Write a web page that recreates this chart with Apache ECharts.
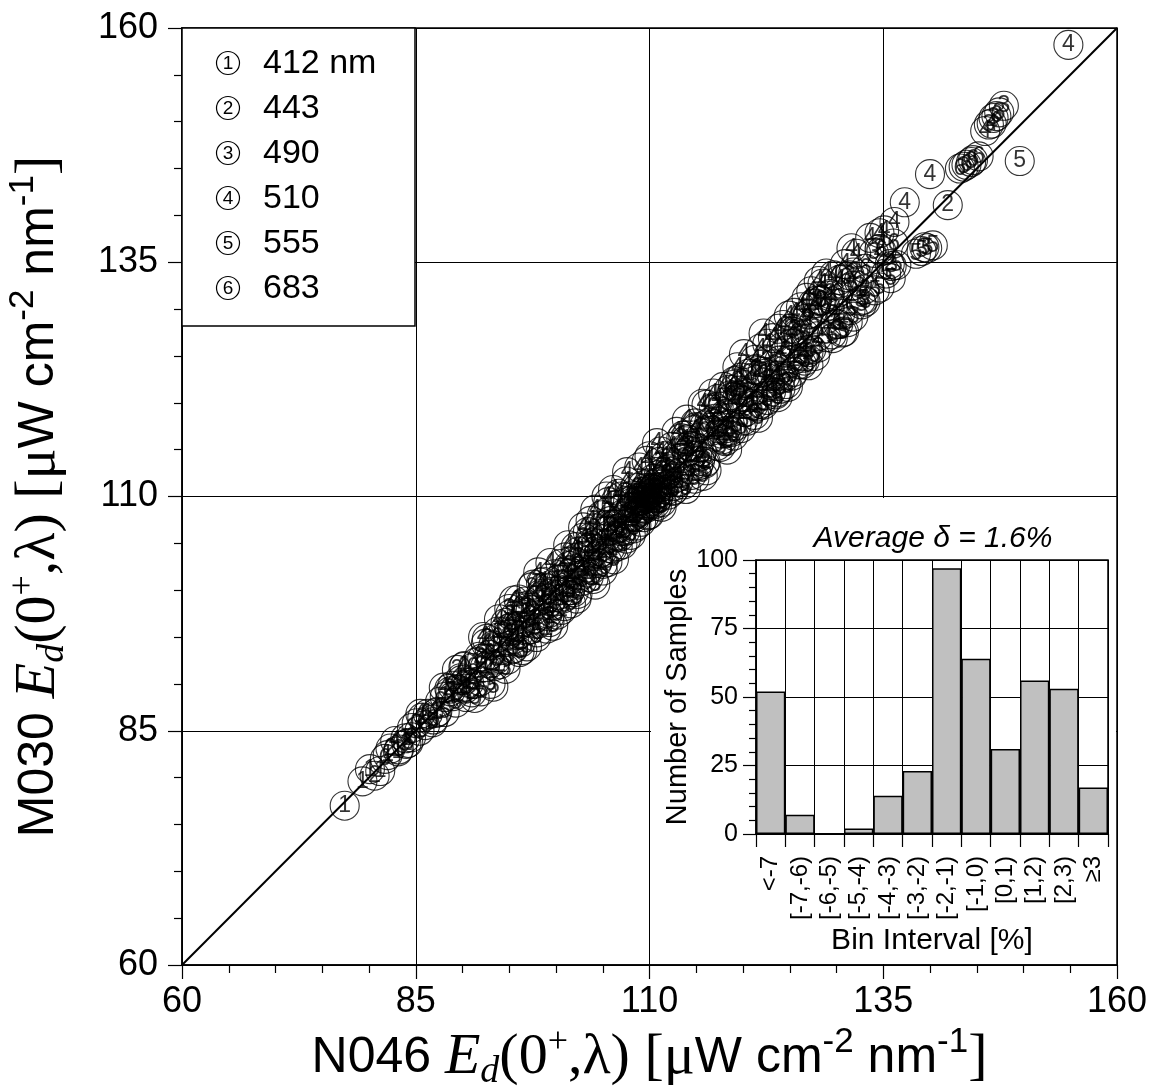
<!DOCTYPE html>
<html>
<head>
<meta charset="utf-8">
<script src="https://cdn.jsdelivr.net/npm/echarts@6/dist/echarts.min.js"></script>
<style>
html,body{margin:0;padding:0;background:#fff;}
#chart{width:1167px;height:1090px;}
</style>
</head>
<body>
<div id="chart"></div>
<script>
// ---------------- DATA ----------------
const wavelengthLabels = ['412 nm', '443', '490', '510', '555', '683'];
const seriesDigits = ['1', '2', '3', '4', '5', '6'];

const s412 = [
[77.4,77.0],[79.3,79.6],[80.1,80.9],[81.2,80.7],[82.0,82.4],[83.1,82.8],[83.9,84.2],[84.6,85.3],[85.4,85.0],[86.3,86.8],
[87.2,86.9],[88.1,88.6],[89.0,88.7],[89.8,90.6],[90.7,90.1],[91.5,92.3],[92.4,91.8],[93.3,94.1],[94.1,93.6],[95.0,95.9],
[95.9,95.2],[96.8,97.6],[97.6,96.9],[98.5,99.4],[99.4,98.8],[100.2,101.1],[101.1,100.3],[102.0,102.8],[102.9,102.2],[103.8,104.7],
[104.6,103.9],[105.5,106.3],[106.4,105.8],[107.3,108.2],[108.2,107.9],[108.9,109.6],[109.6,109.1],[110.3,110.8],[111.0,110.4],[112.1,112.9],
[113.2,112.5],[114.5,115.3],[115.6,114.8],[116.9,117.7],[118.2,117.3],[119.6,120.4],[120.9,119.9],[122.4,123.1],[123.8,122.9],[125.2,126.3],
[126.7,125.6],[109.2,109.9],[110.6,110.1],[108.4,108.0],[97.1,98.4],[101.6,101.9],
[90.2,91.9],[91.9,90.3],[93.8,95.6],[95.4,93.7],[96.3,98.2],[98.0,96.4],[99.8,101.7],[100.7,99.1],[102.4,104.1],[103.3,101.9],
[105.1,106.9],[106.0,104.4],[107.7,109.4],[108.6,106.9],[109.9,111.4],[110.8,109.0],[111.7,113.5],[112.6,111.1],[114.0,116.1],[115.2,113.3],
[117.4,119.6],[118.8,116.9],[121.3,123.5],[122.5,120.8],[124.4,126.6],
[96.0,99.0],[99.0,95.9],[104.0,101.2],[107.0,110.0],[109.4,110.5],[110.0,109.3],[110.5,110.9],[113.6,116.5],[119.8,122.7],[123.5,120.9]
];
const s443 = [
[80.6,80.2],[82.3,83.1],[84.0,83.6],[85.7,86.4],[87.3,87.0],[88.6,89.5],[90.2,89.7],[91.8,92.9],[93.0,92.2],[94.4,95.6],
[95.5,94.8],[96.9,98.1],[97.8,97.0],[99.1,100.2],[100.3,99.5],[101.4,102.6],[102.7,101.6],[103.5,104.9],[104.9,104.1],[105.8,107.0],
[107.0,106.3],[108.1,109.3],[109.0,108.4],[109.8,110.6],[110.6,109.8],[111.5,112.6],[112.7,111.9],[113.9,115.2],[115.1,114.4],[116.4,117.9],
[117.7,116.7],[118.9,120.6],[120.2,119.0],[121.6,123.4],[122.9,121.9],[124.1,125.9],[125.5,124.6],[126.8,129.0],[128.0,127.1],[129.3,131.6],
[130.4,129.5],[131.8,133.9],[133.0,132.1],[134.6,136.4],[135.7,134.8],[141.9,141.1],[110.1,109.2],[111.2,111.0],
[89.4,91.5],[91.0,89.1],[92.6,94.8],[94.0,92.1],[95.1,97.4],[96.2,94.4],[98.4,100.8],[99.3,97.2],[101.0,103.5],[101.9,99.8],
[104.1,106.6],[105.0,102.8],[106.5,109.1],[107.5,105.5],[108.7,110.9],[109.4,107.8],[111.1,113.7],[112.0,110.2],[113.4,116.2],[114.5,112.3],
[116.9,119.5],[118.1,115.9],[120.6,123.1],[121.9,119.9],[125.1,127.9],[126.3,124.1],
[97.4,100.3],[100.6,97.9],[105.6,108.4],[108.9,109.9],[110.3,110.4],[111.0,112.3],[116.0,113.7],[119.4,122.4],[124.6,122.0],[127.5,130.6]
];
const s490 = [
[83.2,83.0],[85.1,85.8],[86.9,86.2],[88.7,89.2],[90.3,89.5],[92.1,92.7],[93.6,92.6],[95.3,96.1],[96.8,95.7],[98.2,99.0],
[99.6,98.4],[101.5,100.0],[100.8,101.9],[102.4,101.3],[103.6,104.5],[104.5,103.2],[105.9,106.8],[106.8,105.7],[108.0,108.8],[109.2,108.6],
[110.1,110.9],[110.9,109.9],[111.8,112.3],[113.0,112.1],[114.3,115.4],[115.5,114.3],[117.0,118.3],[118.3,117.0],[119.7,121.3],[121.1,119.7],
[122.6,124.5],[124.0,122.6],[125.6,127.8],[127.0,125.4],[128.4,130.9],[129.9,128.4],[131.4,133.6],[132.6,130.9],[134.0,136.0],[135.9,134.6],
[143.6,145.2],[144.4,145.7],[146.8,150.4],[147.4,151.0],[147.9,151.7],[146.3,149.7],[139.4,136.6],[109.6,110.0],
[91.3,88.5],[93.0,90.0],[94.6,91.6],[96.1,93.4],[97.9,95.0],[99.3,96.6],[100.9,98.3],[102.3,99.6],[104.2,100.6],[103.8,102.2],
[105.5,103.0],[107.1,104.9],[108.3,106.6],[109.8,108.0],[111.3,109.4],[112.5,110.6],[113.7,111.3],[115.9,113.5],[117.6,115.3],[119.0,116.5],
[120.5,118.1],[122.2,119.8],[123.6,121.1],[125.2,122.9],[126.6,124.5],[128.0,125.9],[129.5,127.3],[131.8,129.2],[133.1,130.8],
[95.0,98.0],[102.9,105.6],[109.1,109.6],[110.7,110.2],[114.9,117.8],[118.9,121.9],[121.6,118.4],[124.8,121.7],[127.9,130.9],[130.6,127.5]
];
const s510 = [
[82.8,83.9],[85.5,86.8],[88.0,89.6],[90.1,91.8],[92.5,94.3],[94.6,96.5],[96.7,98.8],[98.6,100.9],[100.5,102.8],[102.1,104.6],
[103.4,106.2],[104.9,108.0],[105.6,109.4],[106.7,110.3],[107.5,111.6],[108.4,109.8],[109.3,111.2],[110.2,112.4],[111.6,114.3],[112.4,115.3],
[113.8,115.9],[115.0,117.4],[116.8,121.0],[117.9,121.7],[119.1,122.3],[120.1,125.2],[121.3,124.6],[122.6,126.3],[123.8,127.9],[124.9,129.3],
[126.2,130.2],[127.3,131.9],[128.5,132.7],[129.7,133.6],[130.9,134.8],[132.1,135.9],[133.6,137.6],[135.1,138.4],[136.2,139.3],[137.3,141.4],
[140.0,144.4],[145.9,149.0],[146.6,149.8],[154.8,158.2],[127.8,130.6],[126.9,129.4],
[92.2,95.0],[93.9,96.9],[95.5,98.9],[97.6,100.6],[99.4,102.9],[101.3,104.8],[102.9,106.7],[104.2,108.6],[106.1,110.7],[107.6,112.6],
[108.9,113.1],[110.0,114.3],[110.8,115.7],[112.9,116.9],[114.0,118.2],[114.8,117.1],[116.1,119.8],[117.3,120.4],[118.5,121.4],[120.2,121.9],
[121.9,125.8],[123.2,126.9],[125.5,129.6],[126.8,131.2],[128.1,133.0],[129.2,131.4],[130.3,133.1],[131.6,136.5],[134.6,138.1],
[98.1,101.9],[103.7,107.4],[105.4,110.0],[109.7,113.8],[111.2,114.8],[115.7,119.9],[119.4,123.8],[122.2,127.4],[124.3,128.3],[128.9,133.8]
];
const s555 = [
[84.2,83.7],[86.8,85.9],[89.3,88.0],[91.2,90.0],[93.4,91.9],[95.4,93.8],[97.2,95.8],[99.1,97.5],[101.5,100.0],[102.8,101.0],
[104.4,102.9],[105.8,104.5],[107.4,106.3],[108.5,107.8],[109.5,108.7],[110.6,109.2],[111.9,110.7],[113.1,111.6],[114.3,112.9],[116.1,112.8],
[115.4,113.8],[117.2,115.4],[118.6,117.0],[120.0,118.1],[121.5,119.6],[123.0,121.2],[124.5,122.8],[125.9,124.1],[127.3,125.7],[128.9,127.0],
[130.2,128.4],[131.5,129.9],[132.7,130.5],[134.1,132.0],[135.3,133.8],[136.4,134.7],[138.5,135.9],[139.1,136.2],[139.7,136.5],[140.3,136.8],
[149.6,145.8],[119.3,117.6],[126.4,124.8],
[88.1,87.0],[90.4,88.6],[92.0,89.2],[93.3,89.7],[94.8,92.6],[96.4,93.6],[98.0,95.5],[100.1,97.4],[101.6,98.6],[103.5,101.4],
[105.0,102.1],[106.6,104.7],[108.0,105.9],[110.0,108.1],[111.3,108.9],[112.6,110.7],[114.8,111.9],[115.7,112.2],[117.8,116.1],[119.8,117.3],
[121.2,118.7],[122.6,120.3],[124.0,121.5],[125.4,123.3],[127.7,125.0],[129.6,126.9],[131.2,128.6],[132.9,131.0],[134.6,132.3],[135.8,133.3],
[96.9,94.0],[99.7,96.2],[102.2,99.1],[106.2,103.3],[109.1,107.3],[110.9,109.8],[113.9,110.8],[118.3,115.0],[123.7,120.6],[127.0,124.0],[130.8,127.6]
];
const s683 = [
[81.7,82.0],[84.5,84.3],[87.6,88.1],[89.9,90.4],[92.9,93.1],[94.9,95.3],[97.3,97.9],[99.9,100.5],[101.7,101.8],[103.1,103.7],
[105.3,105.5],[106.2,107.0],[107.8,108.4],[108.8,109.5],[109.9,110.3],[110.8,111.5],[112.2,113.2],[113.5,114.1],[115.4,116.3],[116.6,117.0],
[118.1,118.8],[119.4,120.5],[120.6,121.2],[122.1,123.3],[123.3,124.1],[124.6,125.6],[125.9,127.4],[127.6,128.6],[128.8,130.2],[130.2,131.8],
[131.7,132.5],[133.1,134.3],[134.8,136.2],[136.1,137.0],[143.2,145.0],[143.9,145.4],[144.6,145.9],[145.2,146.3],[147.1,150.6],
[86.0,85.6],[88.9,89.8],[91.1,91.7],[93.7,94.9],[96.0,96.2],[98.4,99.6],[100.6,101.1],[102.3,103.5],[104.3,104.9],[105.9,107.4],
[107.1,107.5],[108.2,110.1],[109.3,109.6],[110.4,111.9],[111.5,111.3],[112.9,114.6],[114.2,114.9],[115.9,117.6],[117.2,118.0],[118.7,120.8],
[120.0,120.2],[121.4,123.6],[123.9,124.5],[125.3,127.6],[126.6,127.3],[128.3,130.9],[129.6,130.1],[131.0,133.4],[132.4,133.0],
[95.7,97.3],[99.0,99.1],[103.7,105.6],[106.7,106.6],[109.6,110.9],[110.2,109.5],[111.9,112.4],[117.8,119.6],[122.7,122.6],[127.0,129.5]
];
const scatterSets = [s412, s443, s490, s510, s555, s683];
const oneToOne = [60, 160];

const mainTicks = { min: 60, max: 160, step: 25 };

const binLabels = ['<-7', '[-7,-6)', '[-6,-5)', '[-5,-4)', '[-4,-3)', '[-3,-2)', '[-2,-1)', '[-1,0)', '[0,1)', '[1,2)', '[2,3)', '\u22653'];
const binCounts = [52, 7, 0, 2, 14, 23, 97, 64, 31, 56, 53, 17];
const histTitle = 'Average \u03b4 = 1.6%';

// ---------------- CHART ----------------
const chart = echarts.init(document.getElementById('chart'), null, { renderer: 'canvas' });

const SANS = 'Liberation Sans';
const SERIF = 'Liberation Serif';
const nameRich = () => ({
  s:   { fontFamily: SANS,  fontSize: 50, lineHeight: 66, color: '#000' },
  t:   { fontFamily: SERIF, fontSize: 58, lineHeight: 66, color: '#000' },
  ti:  { fontFamily: SERIF, fontSize: 58, lineHeight: 66, fontStyle: 'italic', color: '#000' },
  sub: { fontFamily: SERIF, fontSize: 38, lineHeight: 30, fontStyle: 'italic', verticalAlign: 'bottom', color: '#000' },
  tsup:{ fontFamily: SERIF, fontSize: 36, lineHeight: 35, verticalAlign: 'top', color: '#000' },
  ssup:{ fontFamily: SANS,  fontSize: 35, lineHeight: 35, verticalAlign: 'top', color: '#000' }
});
const unitName = (prefix) => '{s|' + prefix + ' }{ti|E}{sub|d}{t|(0}{tsup|+}{t|,\u03bb) [\u03bc}{s|W cm}{ssup|-2}{s| nm}{ssup|-1}{t|]}';

const blk = '#000';
const mainAxisCommon = {
  type: 'value', gridIndex: 0,
  min: mainTicks.min, max: mainTicks.max, interval: mainTicks.step,
  axisLine: { show: true, lineStyle: { color: blk, width: 1.5 } },
  axisTick: { show: true, length: 14, lineStyle: { color: blk, width: 1.2 } },
  minorTick: { show: true, splitNumber: 5, length: 8, lineStyle: { color: blk, width: 1.2 } },
  splitLine: { show: true, lineStyle: { color: blk, width: 1 } },
  minorSplitLine: { show: false },
  nameLocation: 'middle',
  z: 0
};

const legendGraphics = [];
legendGraphics.push({
  type: 'rect', z: 1, silent: true,
  shape: { x: 182, y: 28, width: 233, height: 298 },
  style: { fill: '#fff', stroke: blk, lineWidth: 1.5 }
});
wavelengthLabels.forEach((lab, i) => {
  const cy = 63 + i * 45;
  legendGraphics.push({ type: 'circle', z: 2, silent: true, shape: { cx: 228, cy: cy, r: 11.5 }, style: { fill: 'none', stroke: blk, lineWidth: 1.2 } });
  legendGraphics.push({ type: 'text', z: 2, silent: true, x: 228, y: cy + 1, style: { text: seriesDigits[i], font: '19px ' + SANS, fill: blk, textAlign: 'center', textVerticalAlign: 'middle' } });
  legendGraphics.push({ type: 'text', z: 2, silent: true, x: 263, y: cy + 1, style: { text: lab, font: '34px ' + SANS, fill: blk, textAlign: 'left', textVerticalAlign: 'middle' } });
});

const scatterSeries = scatterSets.map((set, i) => ({
  type: 'scatter', name: wavelengthLabels[i], xAxisIndex: 0, yAxisIndex: 0,
  data: set, symbol: 'circle', symbolSize: 29, z: 3,
  itemStyle: { color: 'rgba(255,255,255,0)', borderColor: '#000', borderWidth: 1.1 },
  label: { show: true, position: 'inside', formatter: seriesDigits[i], fontSize: 23, fontFamily: SANS, color: '#000' },
  emphasis: { disabled: true }
}));

const option = {
  animation: false,
  backgroundColor: '#fff',
  grid: [
    { left: 182, top: 28, width: 935, height: 937, show: true, borderColor: blk, borderWidth: 1.5, backgroundColor: 'transparent', z: 0, containLabel: false, outerBoundsMode: 'none' },
    { left: 756, top: 560, width: 352, height: 274, show: true, borderColor: blk, borderWidth: 1.5, backgroundColor: 'transparent', z: 4, containLabel: false, outerBoundsMode: 'none' }
  ],
  xAxis: [
    Object.assign({}, mainAxisCommon, {
      position: 'bottom',
      axisLabel: { fontSize: 36, color: blk, margin: 19, fontFamily: SANS },
      name: unitName('N046'), nameGap: 56,
      nameTextStyle: { rich: nameRich() }
    }),
    {
      type: 'category', gridIndex: 1, data: binLabels, z: 4,
      axisLine: { show: true, lineStyle: { color: blk, width: 1.5 } },
      axisTick: { show: true, length: 13, interval: 0, lineStyle: { color: blk, width: 1.2 } },
      axisLabel: { interval: 0, rotate: 90, fontSize: 24, color: blk, margin: 22, fontFamily: SANS },
      splitLine: { show: true, interval: 0, lineStyle: { color: blk, width: 1 } },
      name: 'Bin Interval [%]', nameLocation: 'middle', nameGap: 92,
      nameTextStyle: { fontSize: 30, color: blk, fontFamily: SANS }
    }
  ],
  yAxis: [
    Object.assign({}, mainAxisCommon, {
      position: 'left',
      axisLabel: { fontSize: 36, color: blk, margin: 24, fontFamily: SANS },
      name: unitName('M030'), nameGap: 110, nameRotate: 90,
      nameTextStyle: { rich: nameRich() }
    }),
    {
      type: 'value', gridIndex: 1, min: 0, max: 100, interval: 25, z: 4,
      axisLine: { show: true, lineStyle: { color: blk, width: 1.5 } },
      axisTick: { show: true, length: 13, lineStyle: { color: blk, width: 1.2 } },
      minorTick: { show: true, splitNumber: 5, length: 7, lineStyle: { color: blk, width: 1.2 } },
      splitLine: { show: true, lineStyle: { color: blk, width: 1 } },
      axisLabel: { fontSize: 25, color: blk, margin: 18, fontFamily: SANS },
      name: 'Number of Samples', nameLocation: 'middle', nameGap: 58,
      nameTextStyle: { fontSize: 29, color: blk, fontFamily: SANS }
    }
  ],
  graphic: legendGraphics.concat([
    { type: 'rect', z: 1, silent: true, shape: { x: 651, y: 498, width: 465, height: 466 }, style: { fill: '#fff', stroke: null } },
    { type: 'text', z: 6, silent: true, x: 933, y: 539, style: { text: histTitle, font: 'italic 30px ' + SANS, fill: blk, textAlign: 'center', textVerticalAlign: 'middle' } }
  ]),
  series: [
    {
      type: 'line', xAxisIndex: 0, yAxisIndex: 0, z: 2,
      data: oneToOne.map(v => [v, v]), symbol: 'none',
      lineStyle: { color: blk, width: 2 }, silent: true
    }
  ].concat(scatterSeries).concat([
    {
      type: 'bar', xAxisIndex: 1, yAxisIndex: 1, z: 5,
      data: binCounts, barCategoryGap: '0%',
      itemStyle: { color: '#c0c0c0', borderColor: blk, borderWidth: 1.5 },
      emphasis: { disabled: true }
    }
  ])
};
chart.setOption(option);
</script>
</body>
</html>
